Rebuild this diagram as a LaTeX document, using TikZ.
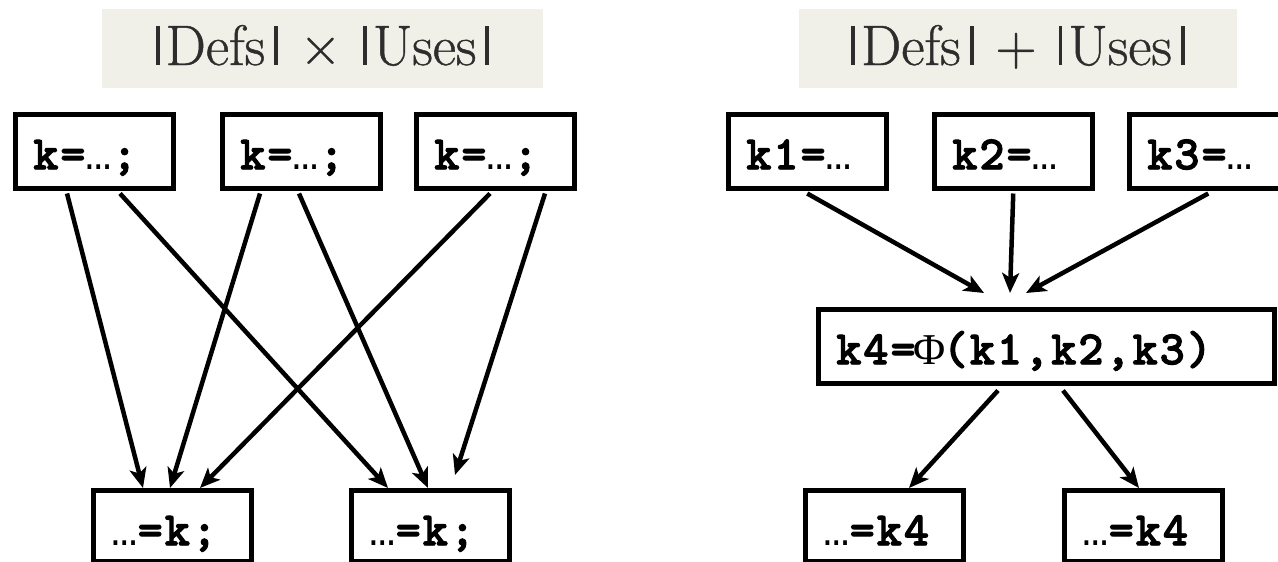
\documentclass[tikz,border=0pt]{standalone}
\usepackage{fontspec}
\newfontfamily\courb{lmmonolt10-bold.otf}[LetterSpace=4, FakeBold=2]
\newfontfamily\titlefont{Latin Modern Roman}[FakeBold=0.8]
\newfontfamily\dotsfont{Liberation Mono}
\newfontfamily\phifont{Liberation Serif}
\usetikzlibrary{arrows.meta,calc}
\definecolor{titlebg}{RGB}{240,240,232}
\definecolor{titletext}{RGB}{45,45,45}
\newcommand\dts{{\dotsfont\fontsize{44}{44}\selectfont …}}
\newcommand\vb{\rule{3.8pt}{39pt}}
\tikzset{
  box/.style={draw=black, line width=4.5pt, anchor=north west, inner xsep=18pt, inner ysep=0pt,
    text width=122pt, align=left, text height=55pt, text depth=19pt,
    font=\fontsize{48}{48}\selectfont\courb},
  widebox/.style={box, text width=420pt},
  lowbox/.style={box, text depth=16pt},
  titlebox/.style={fill=titlebg, inner sep=0pt, text height=56pt, text depth=23pt,
    font=\fontsize{57}{57}\selectfont\titlefont, text=titletext},
  arr/.style={line width=4.5pt, -{Stealth[length=20pt,width=17pt,inset=5pt]}},
}
\begin{document}
\begin{tikzpicture}[x=1pt,y=-1pt]
\useasboundingbox (0,0) rectangle (1278,562);
% titles
\node[titlebox, minimum width=441pt] (T1) at (322.5,48.5)
  {\vb\kern6pt Defs\kern9pt\vb\kern22pt×\kern22pt\vb\kern6pt Uses\kern9pt\vb};
\node[titlebox, minimum width=438pt] (T2) at (1018,48.5)
  {\vb\kern6pt Defs\kern9pt\vb\kern22pt+\kern22pt\vb\kern6pt Uses\kern9pt\vb};
% left graph
\node[box] (t1) at (13,112) {k=\dts;};
\node[box] (t2) at (220,112) {k=\dts;};
\node[box] (t3) at (414,112) {k=\dts;};
\node[lowbox] (b1) at (91,488) {\dts=k;};
\node[lowbox] (b2) at (349,488) {\dts=k;};
\coordinate (e6) at (455,475);
\draw[arr] ($(t1.south west)+(54,3)$) -- ($(b1.north west)+(52,0)$);
\draw[arr] ($(t1.south west)+(107,3)$) -- ($(b2.north west)+(39,0)$);
\draw[arr] ($(t2.south west)+(40,3)$) -- ($(b1.north west)+(79,0)$);
\draw[arr] ($(t2.south west)+(79,3)$) -- ($(b2.north west)+(79,0)$);
\draw[arr] ($(t3.south west)+(76,3)$) -- ($(b1.north west)+(109,0)$);
\draw[arr] ($(t3.south west)+(131,3)$) -- (e6);
% right graph
\node[box] (r1) at (726,112) {k1=\dts};
\node[box] (r2) at (932,112) {k2=\dts};
\node[box] (r3) at (1127,112) {k3=\dts};
\node[widebox] (k4) at (816,307) {k4=\makebox[27pt]{\phifont\fontsize{44}{44}\selectfont Φ}(k1,k2,k3)};
\node[lowbox] (s1) at (803,488) {\dts=k4};
\node[lowbox] (s2) at (1062,488) {\dts=k4};
\draw[arr] ($(r1.south)+(0,3)$) -- ($(k4.north west)+(168,-14)$);
\draw[arr] ($(r2.south)+(0,3)$) -- ($(k4.north west)+(194,-14)$);
\draw[arr] ($(r3.south)+(0,3)$) -- ($(k4.north west)+(210,-14)$);
\draw[arr] ($(k4.south west)+(182,5)$) -- ($(s1.north west)+(106,0)$);
\draw[arr] ($(k4.south west)+(247,5)$) -- ($(s2.north west)+(77,0)$);
\end{tikzpicture}
\end{document}
